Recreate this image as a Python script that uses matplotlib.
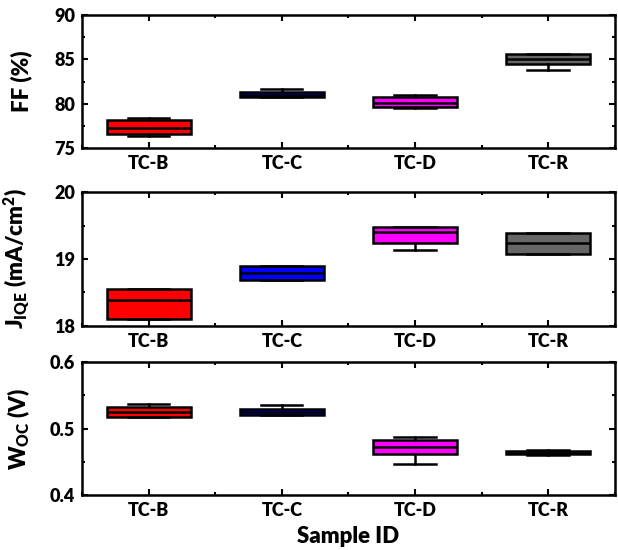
import matplotlib
matplotlib.use('Agg')
import matplotlib.pyplot as plt
from matplotlib.ticker import MultipleLocator

plt.rcParams['font.family'] = 'Lato'
plt.rcParams['font.weight'] = 'bold'
plt.rcParams['mathtext.fontset'] = 'custom'
plt.rcParams['mathtext.rm'] = 'Lato:heavy'
plt.rcParams['mathtext.bf'] = 'Lato:heavy'
plt.rcParams['mathtext.it'] = 'Lato:heavy'

samples = ['TC-B', 'TC-C', 'TC-D', 'TC-R']
colors = ['#ff0000', '#0000ff', '#ff00ff', '#666666']

# FF (%)
ff_q1 = [76.6, 80.7, 79.6, 84.45]
ff_med = [77.3, 80.98, 80.05, 85.05]
ff_q3 = [78.2, 81.3, 80.8, 85.55]
ff_lo = [76.3, 80.7, 79.55, 83.8]
ff_hi = [78.35, 81.65, 80.95, 85.55]

# J_IQE (mA/cm2)
j_q1 = [18.11, 18.69, 19.24, 19.07]
j_med = [18.39, 18.79, 19.40, 19.24]
j_q3 = [18.55, 18.90, 19.48, 19.39]
j_lo = [18.11, 18.69, 19.13, 19.07]
j_hi = [18.55, 18.90, 19.48, 19.39]

# W_OC (V)
w_q1 = [0.517, 0.520, 0.462, 0.4615]
w_med = [0.525, 0.525, 0.472, 0.4638]
w_q3 = [0.533, 0.5287, 0.483, 0.466]
w_lo = [0.517, 0.520, 0.446, 0.4605]
w_hi = [0.537, 0.535, 0.487, 0.4675]

panels = [
    (ff_q1, ff_med, ff_q3, ff_lo, ff_hi, (75, 90), 5, 'FF (%)'),
    (j_q1, j_med, j_q3, j_lo, j_hi, (18, 20), 1, r'J$_{\mathregular{IQE}}$ (mA/cm$^{\mathregular{2}}$)'),
    (w_q1, w_med, w_q3, w_lo, w_hi, (0.4, 0.6), 0.1, r'W$_{\mathregular{OC}}$ (V)'),
]
boxes = [(0.7309, 0.2418), (0.4073, 0.2436), (0.1, 0.2418)]

fig = plt.figure(figsize=(6.18, 5.5), dpi=100)

for i, (q1, med, q3, lo, hi, ylim, step, ylab) in enumerate(panels):
    bottom, height = boxes[i]
    ax = fig.add_axes([0.1327, bottom, 0.862, height])
    stats = []
    for k in range(len(samples)):
        stats.append({'med': med[k], 'q1': q1[k], 'q3': q3[k],
                      'whislo': lo[k], 'whishi': hi[k], 'fliers': []})
    bp = ax.bxp(stats, positions=[1, 2, 3, 4], widths=0.63, patch_artist=True,
                showfliers=False,
                boxprops=dict(linewidth=1.8, edgecolor='black'),
                medianprops=dict(color='black', linewidth=1.8),
                whiskerprops=dict(color='black', linewidth=1.8),
                capprops=dict(color='black', linewidth=1.8),
                capwidths=0.31)
    for patch, c in zip(bp['boxes'], colors):
        patch.set_facecolor(c)
    ax.set_xlim(0.5, 4.5)
    ax.set_ylim(*ylim)
    ax.set_xticks([1, 2, 3, 4])
    ax.set_xticklabels(samples)
    ax.xaxis.set_minor_locator(MultipleLocator(0.5))
    ax.yaxis.set_major_locator(MultipleLocator(step))
    ax.yaxis.set_minor_locator(MultipleLocator(step / 2))
    if i == 2:
        ax.yaxis.set_major_formatter(plt.FormatStrFormatter('%.1f'))
    ax.tick_params(which='both', direction='in', top=True, right=True, width=1.5)
    ax.tick_params(which='major', length=4, labelsize=13, pad=5)
    ax.tick_params(which='minor', length=2.5)
    for lab in ax.get_xticklabels() + ax.get_yticklabels():
        lab.set_fontweight('heavy')
    for s in ax.spines.values():
        s.set_linewidth(1.8)
    ax.set_ylabel(ylab, fontsize=16, fontweight='heavy')
    ax.yaxis.set_label_coords(-0.094, 0.5)
    if i == 2:
        ax.set_xlabel('Sample ID', fontsize=16, fontweight='heavy', labelpad=5)

fig.savefig('out.png', dpi=100)
